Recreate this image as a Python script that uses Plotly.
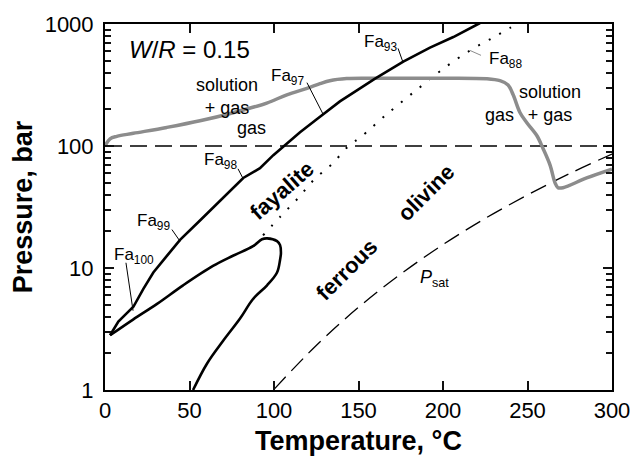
import plotly.graph_objects as go

# ---- phase-boundary curves (temperature in °C, pressure in bar) ----
gas_T = [0, 3, 7, 16.8, 36.5, 56.2, 75.9, 95.7, 107.6, 119.5, 127.2, 133, 143, 160, 190,
         225.9, 233.7, 238.5, 241.5, 245.6, 249.5, 255.5, 259.2, 263.3, 266.3, 268, 271, 285, 300]
gas_P = [100, 114.6, 120, 127, 142, 161, 187.5, 225, 263, 297, 324, 343, 357, 359, 359,
         356, 343, 316, 263, 187.5, 156, 122, 95.3, 70, 49.9, 45.5, 45.5, 54.7, 64.6]

fa_upper_T = [3, 5.9, 7.9, 12.8, 16.8, 22.7, 28.6, 36.5, 44.4, 56.2, 66.1, 75.9, 81.8, 91.7,
              99.6, 107.5, 115.4, 125.3, 139, 150.9, 159.8, 176.5, 192.3, 206.1, 214, 221.9]
fa_upper_P = [2.81, 3.32, 3.64, 4.25, 4.81, 6.75, 9.18, 12.5, 17.0, 24.5, 33.4, 45.5, 54.7, 65.8,
              84.1, 104.5, 129.4, 165.6, 232, 297, 357, 492, 641, 782, 899, 1019]

fa_loop_T = [3, 16.6, 30.8, 46.2, 63.9, 75.7, 87.6, 92.9, 95.9, 101.8, 103.6, 104.1, 103.6,
             101.8, 95.9, 87.6, 79.9, 69.8, 60.4, 52.1]
fa_loop_P = [2.81, 3.78, 5.08, 7.21, 10.4, 12.6, 15.1, 17.2, 17.5, 16.6, 15.4, 13.3, 11.7,
             9.18, 7.21, 5.57, 3.85, 2.52, 1.65, 1.0]

fa88_T = [93.5, 104.1, 114.2, 123.7, 134.3, 144.4, 150.9, 166.9, 184.6, 200, 216, 229.6, 239.6, 244.4]
fa88_P = [18.5, 26.7, 37.3, 53.0, 71.1, 101, 117, 183, 290, 428, 607, 773, 929, 1000]

psat_T = [100, 125, 150, 175, 200, 225, 250, 275, 300]
psat_P = [1.013, 2.32, 4.76, 8.92, 15.55, 25.5, 39.7, 59.5, 85.9]

ref_T = [0, 300]
ref_P = [100, 100]

# ---- composition labels: text, label centre (T, log10 P), leader start/end (T, log10 P) ----
fa_labels = [
    ("Fa<sub>97</sub>", 107.7, 2.567, (119.5, 2.519), (129.0, 2.262)),
    ("Fa<sub>93</sub>", 163.3, 2.848, (173.4, 2.800), (176.3, 2.687)),
    ("Fa<sub>88</sub>", 236.7, 2.703, (216.0, 2.783), (222.5, 2.743)),
    ("Fa<sub>98</sub>", 68.6, 1.877, (78.7, 1.813), (81.7, 1.733)),
    ("Fa<sub>99</sub>", 28.4, 1.380, (39.6, 1.315), (44.4, 1.219)),
    ("Fa<sub>100</sub>", 17.2, 1.099, (12.4, 1.043), (16.6, 0.650)),
]

x_ticks = [0, 50, 100, 150, 200, 250, 300]
y_ticks = [1, 10, 100, 1000]
y_minor = [m * 10 ** d for d in range(3) for m in range(2, 10)]

FONT = "Liberation Sans, Arial, Helvetica, sans-serif"
GRAY = "rgb(140,140,140)"
TICK = "#111111"

fig = go.Figure()

fig.add_trace(go.Scatter(x=ref_T, y=ref_P, mode="lines",
                         line=dict(color="black", width=1.3, dash="17px,8px")))
fig.add_trace(go.Scatter(x=psat_T, y=psat_P, mode="lines", line_shape="spline",
                         line=dict(color="black", width=1.3, dash="17px,8px")))
fig.add_trace(go.Scatter(x=fa88_T, y=fa88_P, mode="lines", line_shape="spline",
                         line=dict(color="black", width=2, dash="2px,10px")))
fig.add_trace(go.Scatter(x=gas_T, y=gas_P, mode="lines", line_shape="spline",
                         line=dict(color=GRAY, width=3.5)))
fig.add_trace(go.Scatter(x=fa_upper_T, y=fa_upper_P, mode="lines",
                         line=dict(color="black", width=2.6)))
fig.add_trace(go.Scatter(x=fa_loop_T, y=fa_loop_P, mode="lines", line_shape="spline",
                         line=dict(color="black", width=2.6)))

annotations = []
for text, tx, ly, (x0, l0), (x1, l1) in fa_labels:
    annotations.append(dict(x=tx, y=ly, text=text, showarrow=False,
                            font=dict(size=17, family=FONT, color="black")))
    leader_color = GRAY if "88" in text else "black"
    fig.add_trace(go.Scatter(x=[x0, x1], y=[10 ** l0, 10 ** l1], mode="lines",
                             line=dict(color=leader_color, width=1)))


def label(text, x, y, size=18, bold=False, angle=0, xanchor="center"):
    if bold:
        text = "<b>" + text + "</b>"
    annotations.append(dict(x=x, y=y, text=text, showarrow=False, textangle=angle,
                            xanchor=xanchor, yanchor="middle",
                            font=dict(size=size, family=FONT, color="black")))


label("<i>W</i>/<i>R</i> = 0.15", 13.0, 2.79, size=24, xanchor="left")
label("solution<br>+ gas", 72.2, 2.406, size=18)
label("gas", 86.4, 2.15, size=18)
label("solution<br>+ gas", 263.3, 2.35, size=18)
label("gas", 233.7, 2.254, size=18)
label("fayalite", 104.7, 1.636, size=22, bold=True, angle=-41)
label("ferrous", 143.2, 0.987, size=22, bold=True, angle=-45)
label("olivine", 190.0, 1.62, size=22, bold=True, angle=-45)
label("<i>P</i><sub>sat</sub>", 194.7, 0.914, size=18)

fig.update_layout(
    width=642, height=463,
    margin=dict(l=105, r=30, t=16, b=73),
    paper_bgcolor="white", plot_bgcolor="white",
    showlegend=False,
    annotations=annotations,
    font=dict(family=FONT, color="black"),
    xaxis=dict(
        range=[0, 300], tickmode="array", tickvals=x_ticks, ticktext=[str(v) for v in x_ticks],
        ticks="inside", ticklen=9, tickwidth=2, tickcolor=TICK,
        showline=True, linewidth=2, linecolor="black", mirror="allticks",
        showgrid=False, zeroline=False,
        tickfont=dict(size=22, family=FONT, color="black"),
        title=dict(text="<b>Temperature, °C</b>", standoff=9,
                   font=dict(size=27, family=FONT, color="black")),
    ),
    yaxis=dict(
        type="log", range=[0, 3], tickmode="array", tickvals=y_ticks,
        ticktext=[str(v) for v in y_ticks],
        ticks="inside", ticklen=9, tickwidth=2, tickcolor=TICK,
        showline=True, linewidth=2, linecolor="black", mirror="allticks",
        showgrid=False, zeroline=False, ticklabelstandoff=5,
        minor=dict(tickmode="array", tickvals=y_minor, ticks="inside", ticklen=6,
                   tickwidth=1.5, tickcolor=TICK, showgrid=False),
        tickfont=dict(size=22, family=FONT, color="black"),
        title=dict(text="<b>Pressure, bar</b>", standoff=4,
                   font=dict(size=27, family=FONT, color="black")),
    ),
)

fig.write_html("out.html")
